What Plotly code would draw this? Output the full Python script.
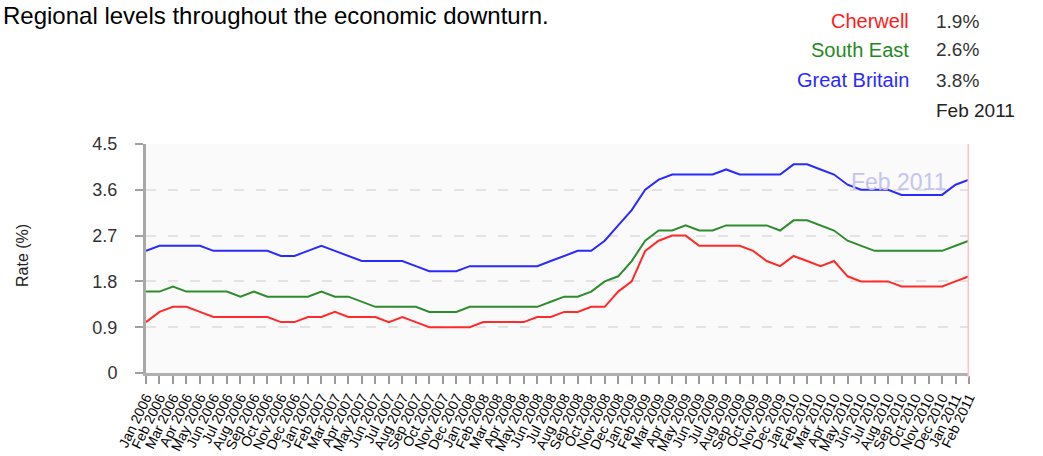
import plotly.graph_objects as go

# Monthly claimant unemployment rate (%), Jan 2006 - Feb 2011
months = [
    "Jan 2006", "Feb 2006", "Mar 2006", "Apr 2006", "May 2006", "Jun 2006",
    "Jul 2006", "Aug 2006", "Sep 2006", "Oct 2006", "Nov 2006", "Dec 2006",
    "Jan 2007", "Feb 2007", "Mar 2007", "Apr 2007", "May 2007", "Jun 2007",
    "Jul 2007", "Aug 2007", "Sep 2007", "Oct 2007", "Nov 2007", "Dec 2007",
    "Jan 2008", "Feb 2008", "Mar 2008", "Apr 2008", "May 2008", "Jun 2008",
    "Jul 2008", "Aug 2008", "Sep 2008", "Oct 2008", "Nov 2008", "Dec 2008",
    "Jan 2009", "Feb 2009", "Mar 2009", "Apr 2009", "May 2009", "Jun 2009",
    "Jul 2009", "Aug 2009", "Sep 2009", "Oct 2009", "Nov 2009", "Dec 2009",
    "Jan 2010", "Feb 2010", "Mar 2010", "Apr 2010", "May 2010", "Jun 2010",
    "Jul 2010", "Aug 2010", "Sep 2010", "Oct 2010", "Nov 2010", "Dec 2010",
    "Jan 2011", "Feb 2011",
]

cherwell = [
    1.0, 1.2, 1.3, 1.3, 1.2, 1.1, 1.1, 1.1, 1.1, 1.1, 1.0, 1.0,
    1.1, 1.1, 1.2, 1.1, 1.1, 1.1, 1.0, 1.1, 1.0, 0.9, 0.9, 0.9,
    0.9, 1.0, 1.0, 1.0, 1.0, 1.1, 1.1, 1.2, 1.2, 1.3, 1.3, 1.6,
    1.8, 2.4, 2.6, 2.7, 2.7, 2.5, 2.5, 2.5, 2.5, 2.4, 2.2, 2.1,
    2.3, 2.2, 2.1, 2.2, 1.9, 1.8, 1.8, 1.8, 1.7, 1.7, 1.7, 1.7,
    1.8, 1.9,
]

south_east = [
    1.6, 1.6, 1.7, 1.6, 1.6, 1.6, 1.6, 1.5, 1.6, 1.5, 1.5, 1.5,
    1.5, 1.6, 1.5, 1.5, 1.4, 1.3, 1.3, 1.3, 1.3, 1.2, 1.2, 1.2,
    1.3, 1.3, 1.3, 1.3, 1.3, 1.3, 1.4, 1.5, 1.5, 1.6, 1.8, 1.9,
    2.2, 2.6, 2.8, 2.8, 2.9, 2.8, 2.8, 2.9, 2.9, 2.9, 2.9, 2.8,
    3.0, 3.0, 2.9, 2.8, 2.6, 2.5, 2.4, 2.4, 2.4, 2.4, 2.4, 2.4,
    2.5, 2.6,
]

great_britain = [
    2.4, 2.5, 2.5, 2.5, 2.5, 2.4, 2.4, 2.4, 2.4, 2.4, 2.3, 2.3,
    2.4, 2.5, 2.4, 2.3, 2.2, 2.2, 2.2, 2.2, 2.1, 2.0, 2.0, 2.0,
    2.1, 2.1, 2.1, 2.1, 2.1, 2.1, 2.2, 2.3, 2.4, 2.4, 2.6, 2.9,
    3.2, 3.6, 3.8, 3.9, 3.9, 3.9, 3.9, 4.0, 3.9, 3.9, 3.9, 3.9,
    4.1, 4.1, 4.0, 3.9, 3.7, 3.6, 3.6, 3.6, 3.5, 3.5, 3.5, 3.5,
    3.7, 3.8,
]

y_ticks = [0, 0.9, 1.8, 2.7, 3.6, 4.5]
y_tick_text = ["0", "0.9", "1.8", "2.7", "3.6", "4.5"]

series_names = ["Cherwell", "South East", "Great Britain"]
series_values = [cherwell, south_east, great_britain]
line_colors = ["#ff2a2a", "#2e8b2e", "#2a2aff"]
label_colors = ["#ff1a1a", "#1f8a1f", "#2a2aff"]
latest_month = months[-1]

FONT = "Liberation Sans, Arial, Helvetica, sans-serif"
W, H = 1043, 456
L, R, T, B = 146, 74, 144, 83
PW, PH = W - L - R, H - T - B


def px(x_pix):
    return (x_pix - L) / PW


def py(y_pix):
    return (H - B - y_pix) / PH


fig = go.Figure()
for name, vals, col in zip(series_names, series_values, line_colors):
    fig.add_trace(go.Scatter(
        x=months, y=vals, mode="lines", name=name,
        line=dict(color=col, width=2), showlegend=False,
    ))

annotations = [
    # heading above the chart
    dict(text="Regional levels throughout the economic downturn.",
         xref="paper", yref="paper", x=px(1), y=py(0),
         xanchor="left", yanchor="top", showarrow=False,
         font=dict(family=FONT, size=24, color="#000000")),
    # y-axis title
    dict(text="Rate (%)", xref="paper", yref="paper", x=px(22), y=py(256),
         textangle=-90, xanchor="center", yanchor="middle", showarrow=False,
         font=dict(family=FONT, size=16, color="#222222")),
    # latest month inside the plot
    dict(text=latest_month, xref="x", yref="y", x=55.8, y=3.76,
         xanchor="center", yanchor="middle", showarrow=False,
         font=dict(family=FONT, size=23, color="#c4c4ee")),
    # latest month under the key
    dict(text=latest_month, xref="paper", yref="paper", x=px(934), y=py(110),
         xanchor="left", yanchor="middle", showarrow=False,
         font=dict(family=FONT, size=19, color="#222222")),
]

# key: series name with its latest value
row_centres = [21, 50, 80]
for name, vals, col, yc in zip(series_names, series_values, label_colors, row_centres):
    annotations.append(dict(
        text=name, xref="paper", yref="paper", x=px(911), y=py(yc),
        xanchor="right", yanchor="middle", showarrow=False,
        font=dict(family=FONT, size=20, color=col)))
    annotations.append(dict(
        text=f"{vals[-1]:.1f}%", xref="paper", yref="paper", x=px(934), y=py(yc),
        xanchor="left", yanchor="middle", showarrow=False,
        font=dict(family=FONT, size=19, color="#333333")))

fig.update_layout(
    width=W, height=H,
    margin=dict(l=L, r=R, t=T, b=B, pad=0),
    paper_bgcolor="#ffffff",
    plot_bgcolor="#fafafa",
    font=dict(family=FONT),
    annotations=annotations,
    shapes=[dict(type="line", xref="x", yref="paper",
                 x0=len(months) - 1, x1=len(months) - 1, y0=-0.02, y1=1,
                 line=dict(color="#ffc2cc", width=3), layer="above")],
    xaxis=dict(
        type="category", range=[0, len(months) - 1], autorange=False,
        tickmode="array", tickvals=months, ticktext=months,
        tickangle=-64, tickfont=dict(family=FONT, size=14, color="#000000"),
        showgrid=False, zeroline=False,
        showline=True, linecolor="#b0b0b0", linewidth=3,
        ticks="outside", ticklen=8, tickwidth=2, tickcolor="#9a9a9a",
        automargin=False,
    ),
    yaxis=dict(
        range=[0, 4.5], autorange=False,
        tickmode="array", tickvals=y_ticks, ticktext=y_tick_text,
        tickfont=dict(family=FONT, size=18, color="#333333"),
        showgrid=True, gridcolor="#e3e3e3", gridwidth=2, griddash="10px,12px",
        zeroline=False,
        showline=True, linecolor="#a8a8a8", linewidth=3,
        ticks="outside", ticklen=8, tickwidth=2, tickcolor="#a0a0a0",
        ticklabelstandoff=14,
        automargin=False,
    ),
)

fig.write_html("out.html")
